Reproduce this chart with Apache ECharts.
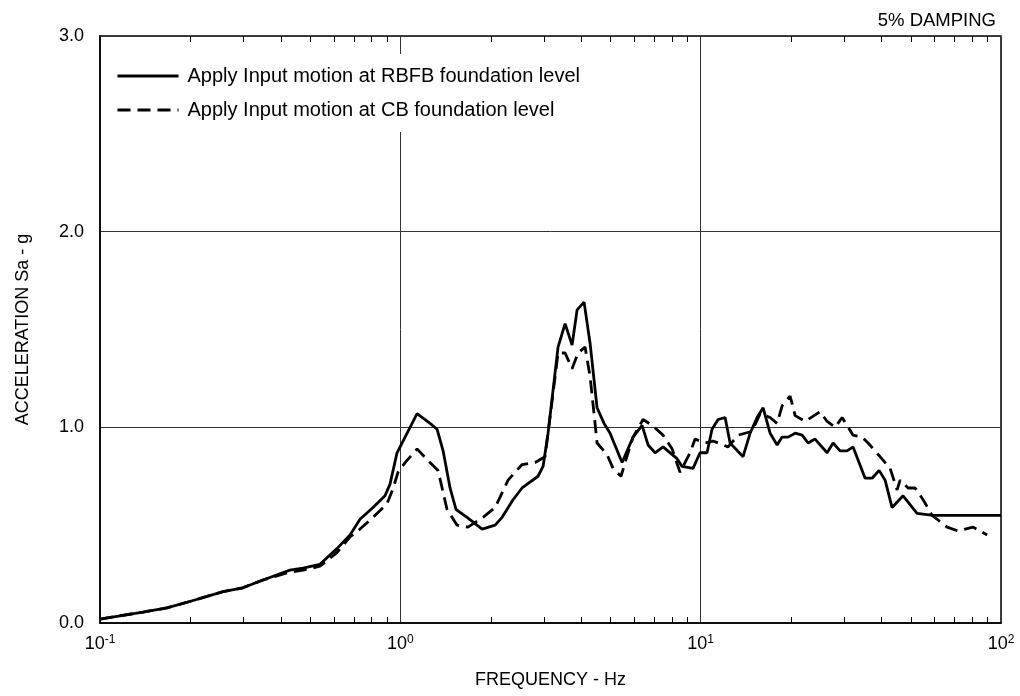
<!DOCTYPE html>
<html><head><meta charset="utf-8">
<script src="https://cdn.jsdelivr.net/npm/echarts@6/dist/echarts.min.js"></script>
<style>html,body{margin:0;padding:0;background:#fff}#c{width:1020px;height:696px}</style>
</head><body><div id="c"></div>
<script>
// ---- data ----
const solidFreq = [0.1,0.139,0.167,0.199,0.257,0.299,0.349,0.429,0.474,0.54,0.615,0.68,0.734,0.811,0.889,0.924,0.975,1.021,1.137,1.256,1.326,1.388,1.464,1.533,1.668,1.872,2.068,2.182,2.373,2.543,2.874,2.987,3.104,3.225,3.351,3.537,3.731,3.877,4.091,4.283,4.519,4.768,4.993,5.474,5.956,6.382,6.681,7.051,7.496,8.344,8.67,9.434,9.95,10.5,10.91,11.43,12.06,12.53,13.84,14.61,15.41,16.14,17.03,17.97,18.67,19.54,20.63,21.77,22.79,24.04,26.36,27.6,29.12,30.72,32.17,35.28,37.23,39.28,41.13,43.39,47.21,52.55,59.39,70,85,100];
const solidVal = [0.02,0.056,0.077,0.11,0.16,0.18,0.22,0.27,0.28,0.30,0.38,0.45,0.53,0.59,0.65,0.71,0.87,0.93,1.07,1.02,0.99,0.88,0.69,0.58,0.54,0.48,0.50,0.54,0.63,0.69,0.75,0.80,0.97,1.19,1.41,1.53,1.42,1.60,1.64,1.43,1.10,1.02,0.97,0.82,0.95,1.01,0.91,0.87,0.90,0.84,0.80,0.79,0.87,0.87,0.99,1.04,1.05,0.92,0.85,0.97,1.05,1.10,0.97,0.91,0.95,0.95,0.97,0.96,0.92,0.94,0.87,0.92,0.88,0.88,0.90,0.74,0.74,0.78,0.73,0.59,0.65,0.56,0.55,0.55,0.55,0.55];
const dashFreq = [0.1,0.139,0.167,0.199,0.257,0.299,0.349,0.429,0.474,0.54,0.615,0.68,0.734,0.811,0.903,0.947,0.982,1.037,1.137,1.236,1.335,1.431,1.545,1.68,1.885,2.068,2.284,2.543,2.809,3.033,3.15,3.351,3.537,3.731,3.906,4.122,4.283,4.45,4.519,4.88,5.11,5.43,5.6,5.956,6.43,6.89,7.496,8.03,8.54,9.22,9.58,10.34,11.0,12.34,13.33,14.83,15.77,17.03,17.97,18.67,19.85,20.63,22.27,24.98,26.36,28.03,29.57,32.17,34.47,36.09,39.57,42.74,45.09,46.13,49.05,51.76,55.04,58.97,66.17,71.97,80.76,89.91];
const dashVal = [0.02,0.056,0.077,0.11,0.16,0.18,0.22,0.26,0.27,0.29,0.36,0.44,0.48,0.54,0.61,0.69,0.77,0.82,0.89,0.83,0.78,0.58,0.50,0.49,0.54,0.59,0.73,0.81,0.82,0.85,1.05,1.38,1.38,1.30,1.38,1.41,1.26,1.02,0.92,0.86,0.79,0.75,0.82,0.95,1.04,1.01,0.96,0.89,0.77,0.87,0.94,0.92,0.93,0.90,0.96,0.98,1.07,1.05,1.02,1.11,1.16,1.06,1.03,1.08,1.03,1.00,1.05,0.96,0.95,0.92,0.85,0.79,0.68,0.73,0.69,0.69,0.63,0.55,0.49,0.47,0.49,0.45];
const seriesNames = ['Apply Input motion at RBFB foundation level','Apply Input motion at CB foundation level'];
const minorTicks = [0.2,0.3,0.4,0.5,0.6,0.7,0.8,0.9,2,3,4,5,6,7,8,9,20,30,40,50,60,70,80,90];
const yTicks = [0,1,2,3];
const titleText = '5% DAMPING';
const xName = 'FREQUENCY - Hz';
const yName = 'ACCELERATION Sa - g';

const FONT = '"Liberation Sans", Arial, sans-serif';
const FS = 18;
const chart = echarts.init(document.getElementById('c'), null, {renderer:'canvas'});
const zip = (a,b) => a.map((v,i)=>[v,b[i]]);

const option = {
  animation:false,
  backgroundColor:'#fff',
  title:{text:titleText, right:19, top:6, textStyle:{fontFamily:FONT,fontSize:18.5,fontWeight:'normal',color:'#000'}},
  legend:{
    data:seriesNames.map(n=>({name:n, itemStyle:{opacity:0}})), orient:'vertical', left:104, top:54,
    padding:[12,10,12,12], itemWidth:61, itemHeight:14, itemGap:14,
    backgroundColor:'#fff',
    itemStyle:{opacity:0},
    lineStyle:{width:3},
    textStyle:{fontFamily:FONT,fontSize:20,color:'#000',padding:[0,0,0,4]}
  },
  grid:{left:100,right:19,top:36,bottom:73,show:true,borderColor:'#000',borderWidth:1.5,backgroundColor:'transparent'},
  xAxis:{
    type:'log', logBase:10, min:0.1, max:100,
    name:xName, nameLocation:'middle', nameGap:48,
    nameTextStyle:{fontFamily:FONT,fontSize:FS,color:'#000'},
    axisLine:{lineStyle:{color:'#000',width:1.5}},
    axisTick:{show:false},
    splitLine:{show:true,lineStyle:{color:'#333',width:1}},
    axisLabel:{
      margin:11, color:'#000',
      formatter:function(v){const e=Math.round(Math.log10(v));return '{b|10}{s|'+e+'}';},
      rich:{b:{fontFamily:FONT,fontSize:FS,color:'#000',lineHeight:20},s:{fontFamily:FONT,fontSize:12,color:'#000',verticalAlign:'top',lineHeight:20}}
    }
  },
  yAxis:{
    type:'value', min:yTicks[0], max:yTicks[yTicks.length-1], interval:1,
    name:yName, nameLocation:'middle', nameGap:68,
    nameTextStyle:{fontFamily:FONT,fontSize:FS,color:'#000'},
    axisLine:{show:true,lineStyle:{color:'#000',width:1.5}},
    axisTick:{show:false},
    splitLine:{show:true,lineStyle:{color:'#333',width:1}},
    axisLabel:{margin:16,color:'#000',fontFamily:FONT,fontSize:FS,formatter:v=>v.toFixed(1)}
  },
  series:[
    {name:seriesNames[1], type:'line', symbol:'none', showSymbol:false, data:zip(dashFreq,dashVal),
     lineStyle:{color:'#000',width:2.8,type:[13,7]}, itemStyle:{color:'#000'}, z:3},
    {name:seriesNames[0], type:'line', symbol:'none', showSymbol:false, data:zip(solidFreq,solidVal),
     lineStyle:{color:'#000',width:2.8}, itemStyle:{color:'#000'}, z:4},
    {name:'minor', type:'custom', silent:true, z:6, data:minorTicks.map(v=>[v,0]), encode:{x:0,y:1},
     renderItem:function(params, api){
       const v=api.value(0);
       const b=api.coord([v,yTicks[0]]); const t=api.coord([v,yTicks[yTicks.length-1]]);
       const x=Math.round(b[0])+0.5;
       return {type:'group', children:[
         {type:'line', shape:{x1:x,y1:b[1],x2:x,y2:b[1]-6}, style:{stroke:'#000',lineWidth:1}},
         {type:'line', shape:{x1:x,y1:t[1],x2:x,y2:t[1]+6}, style:{stroke:'#000',lineWidth:1}}
       ]};
     }}
  ]
};
chart.setOption(option);
</script>
</body></html>
